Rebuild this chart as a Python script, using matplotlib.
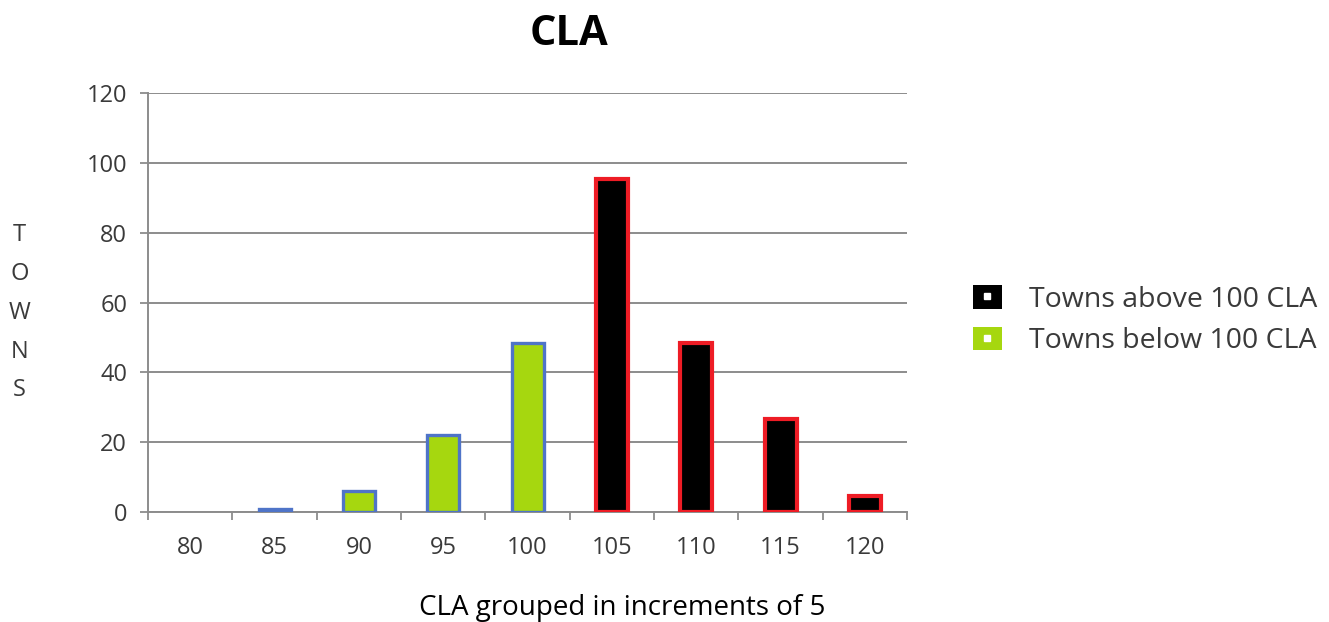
import numpy as np
import matplotlib.pyplot as plt
from matplotlib.patches import Patch
from matplotlib.lines import Line2D
from matplotlib.legend_handler import HandlerTuple

plt.rcParams['font.family'] = ['Open Sans', 'DejaVu Sans']
plt.rcParams['text.color'] = '#3a3a3a'
plt.rcParams['xtick.labelcolor'] = '#3a3a3a'
plt.rcParams['ytick.labelcolor'] = '#3a3a3a'

categories = ['80', '85', '90', '95', '100', '105', '110', '115', '120']
above = [0, 0, 0, 0, 0, 95.5, 48.5, 26.5, 4.5]
below = [0, 0.8, 6, 22, 48.5, 0, 0, 0, 0]

fig = plt.figure(figsize=(13.29, 6.22), dpi=100)
ax = fig.add_axes([0.1114, 0.1768, 0.5711, 0.6737])

x = np.arange(len(categories))
w = 0.38
# empty groups are left undrawn
b = np.where(np.array(below) > 0, below, np.nan)
a = np.where(np.array(above) > 0, above, np.nan)
ax.bar(x, b, w, color='#a6d70f', edgecolor='#4f74c8', linewidth=2.4, zorder=3)
ax.bar(x, a, w, color='black', edgecolor='#ee1c25', linewidth=3, zorder=3)

ax.set_xlim(-0.5, len(categories) - 0.5)
ax.set_ylim(0, 120)
ax.set_yticks(np.arange(0, 121, 20))
ax.yaxis.grid(True, color='#8c8c8c', linewidth=1.4, zorder=0)
ax.set_axisbelow(True)

ax.set_xticks(x)
ax.set_xticklabels(categories, fontsize=17)
ax.set_xticks(np.arange(-0.5, len(categories)), minor=True)
ax.tick_params(axis='x', which='major', length=0, pad=17)
ax.tick_params(axis='x', which='minor', length=6, color='#8c8c8c', width=1.3)
ax.tick_params(axis='y', length=6, color='#8c8c8c', width=1.3, labelsize=17, pad=9)

for s in ['top', 'right']:
    ax.spines[s].set_visible(False)
for s in ['left', 'bottom']:
    ax.spines[s].set_color('#8c8c8c')
    ax.spines[s].set_linewidth(1.4)

ax.set_xlabel('CLA grouped in increments of 5', fontsize=20)
ax.xaxis.set_label_coords(0.6245, -0.195)
fig.text(0.428, 0.944, 'CLA', fontsize=30, fontweight='bold', ha='center',
         va='center', color='black')

fig.text(0.0145, 0.497, 'T\nO\nW\nN\nS', fontsize=17, ha='center', va='center',
         linespacing=1.82)

dot = Line2D([], [], marker='s', color='white', markersize=5, linestyle='none')
h1 = (Patch(facecolor='black'), dot)
h2 = (Patch(facecolor='#a6d70f'), dot)
fig.legend([h1, h2], ['Towns above 100 CLA', 'Towns below 100 CLA'],
           handler_map={tuple: HandlerTuple(ndivide=1)},
           loc='center left', bbox_to_anchor=(0.713, 0.485), frameon=False,
           fontsize=20.5, handlelength=1.0, handleheight=0.9, handletextpad=0.95,
           labelspacing=0.45)

fig.savefig('out.png', dpi=100)
